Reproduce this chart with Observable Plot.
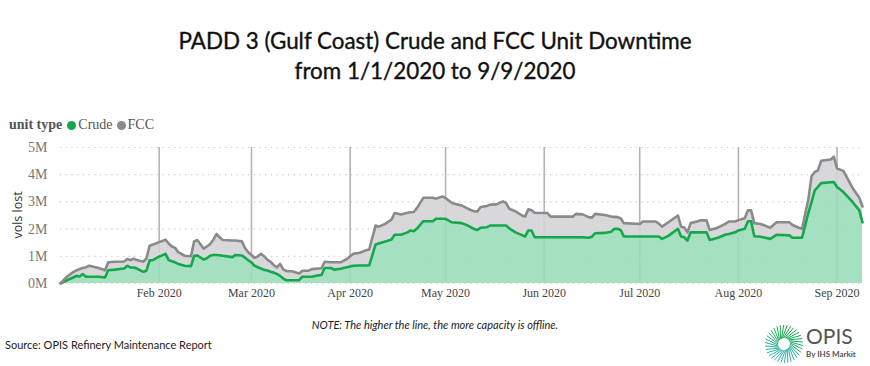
<!DOCTYPE html>
<html>
<head>
<meta charset="utf-8">
<script src="https://cdn.jsdelivr.net/npm/d3@7"></script>
<script src="https://cdn.jsdelivr.net/npm/@observablehq/plot@0.6"></script>
<style>
  html, body { margin: 0; padding: 0; background: #fff; }
  #page { position: relative; width: 870px; height: 366px; overflow: hidden; font-family: "Liberation Serif", serif; }
  .title { position: absolute; left: 0; width: 870px; text-align: center; font-family: Lato, "Open Sans", sans-serif; font-size: 22.4px; color: #111; -webkit-text-stroke: 0.35px #111; }
  #legend { position: absolute; left: 9px; top: 117px; font-family: "Liberation Serif", serif; font-size: 14px; color: #555; white-space: nowrap; }
  #legend b { color: #555; margin-right: 5px; }
  #legend .dot { display: inline-block; width: 9px; height: 9px; border-radius: 50%; margin-right: 2px; vertical-align: -1px; }
  #chart { position: absolute; left: 0; top: 135px; }
  #ylabel { position: absolute; left: 17px; top: 215px; transform: translate(-50%, -50%) rotate(-90deg); font-family: "Open Sans", sans-serif; font-size: 12.5px; color: #333; white-space: nowrap; }
  #note { position: absolute; left: 0; width: 870px; top: 318px; text-align: center; font-family: "Liberation Sans Narrow", Lato, sans-serif; font-style: italic; font-size: 11px; color: #222; }
  #source { position: absolute; left: 5px; top: 338px; font-family: "Liberation Sans Narrow", Lato, sans-serif; font-size: 11px; color: #222; }
  #logo { position: absolute; left: 760px; top: 320px; }
  #chart svg [aria-label="y-axis tick label"] text, #chart svg [aria-label="y-axis"] text { font-size: 14px; fill: #777; }
  #chart svg [aria-label="x-axis tick label"] text, #chart svg [aria-label="x-axis"] text { font-size: 12px; fill: #444; }
</style>
</head>
<body>
<div id="page">
  <div class="title" style="top:27px">PADD 3 (Gulf Coast) Crude and FCC Unit Downtime</div>
  <div class="title" style="top:57px">from 1/1/2020 to 9/9/2020</div>
  <div id="legend"></div>
  <div id="chart"></div>
  <div id="ylabel">vols lost</div>
  <div id="note">NOTE: The higher the line, the more capacity is offline.</div>
  <div id="source">Source: OPIS Refinery Maintenance Report</div>
  <div id="logo"></div>
</div>
<script>
// ---- Data (volumes lost, millions) ----
const dates = [
  // Jan
  "2020-01-01","2020-01-03","2020-01-05","2020-01-06","2020-01-07","2020-01-08","2020-01-09","2020-01-10","2020-01-13","2020-01-15","2020-01-16","2020-01-18","2020-01-21","2020-01-22","2020-01-23","2020-01-24","2020-01-25","2020-01-27","2020-01-28","2020-01-29","2020-01-30",
  // Feb
  "2020-02-01","2020-02-03","2020-02-04","2020-02-05","2020-02-06","2020-02-07","2020-02-09","2020-02-11","2020-02-12","2020-02-13","2020-02-15","2020-02-16","2020-02-17","2020-02-18","2020-02-19","2020-02-20","2020-02-21","2020-02-24","2020-02-25","2020-02-27","2020-02-28","2020-02-29",
  // Mar
  "2020-03-01","2020-03-02","2020-03-03","2020-03-04","2020-03-05","2020-03-06","2020-03-07","2020-03-08","2020-03-09","2020-03-10","2020-03-11","2020-03-12","2020-03-14","2020-03-16","2020-03-17","2020-03-19","2020-03-20","2020-03-22","2020-03-23","2020-03-24","2020-03-26","2020-03-27","2020-03-29","2020-03-31",
  // Apr
  "2020-04-02","2020-04-04","2020-04-06","2020-04-07","2020-04-09","2020-04-10","2020-04-12","2020-04-14","2020-04-15","2020-04-17","2020-04-19","2020-04-20","2020-04-21","2020-04-22","2020-04-24","2020-04-27","2020-04-28","2020-04-30",
  // May
  "2020-05-01","2020-05-03","2020-05-06","2020-05-08","2020-05-10","2020-05-11","2020-05-12","2020-05-14","2020-05-15","2020-05-17","2020-05-19","2020-05-20","2020-05-21","2020-05-23","2020-05-25","2020-05-26","2020-05-27","2020-05-28","2020-05-29",
  // Jun
  "2020-06-02","2020-06-03","2020-06-10","2020-06-11","2020-06-13","2020-06-15","2020-06-16","2020-06-17","2020-06-20","2020-06-22","2020-06-23","2020-06-24","2020-06-25","2020-06-26",
  // Jul
  "2020-07-01","2020-07-02","2020-07-06","2020-07-07","2020-07-08","2020-07-10","2020-07-13","2020-07-14","2020-07-15","2020-07-16","2020-07-17","2020-07-19","2020-07-20","2020-07-22","2020-07-23","2020-07-25","2020-07-26","2020-07-28","2020-07-29","2020-07-31",
  // Aug
  "2020-08-01","2020-08-03","2020-08-04","2020-08-05","2020-08-06","2020-08-08","2020-08-11","2020-08-13","2020-08-17","2020-08-18","2020-08-20","2020-08-21","2020-08-23","2020-08-24","2020-08-25","2020-08-26","2020-08-27","2020-08-30","2020-08-31",
  // Sep
  "2020-09-01","2020-09-03","2020-09-06","2020-09-08","2020-09-09"
];
const crudeVols = [
  0,0.12,0.22,0.28,0.26,0.35,0.25,0.25,0.25,0.22,0.49,0.51,0.55,0.65,0.59,0.59,0.55,0.43,0.47,0.85,0.86,
  0.99,1.09,0.86,0.82,0.78,0.72,0.65,0.64,1.02,1.03,0.88,0.93,1.02,1.05,1.05,1.04,1.02,0.97,1.05,1.03,0.95,0.85,
  0.78,0.65,0.60,0.55,0.50,0.48,0.43,0.40,0.35,0.28,0.18,0.12,0.12,0.12,0.25,0.25,0.25,0.30,0.31,0.57,0.57,0.51,0.54,0.60,
  0.65,0.66,0.66,0.67,1.43,1.47,1.54,1.62,1.79,1.79,1.88,1.95,1.92,2.02,2.29,2.29,2.38,2.38,
  2.38,2.25,2.22,2.13,2.00,1.97,2.05,2.07,2.13,2.13,2.13,2.13,2.03,1.88,1.78,1.73,1.95,1.95,1.70,
  1.70,1.70,1.70,1.70,1.70,1.68,1.72,1.85,1.86,1.90,2.01,2.01,1.97,1.73,
  1.73,1.73,1.73,1.73,1.64,1.75,2.01,1.73,1.70,1.58,1.88,1.88,1.88,1.88,1.60,1.66,1.70,1.80,1.82,1.88,
  1.95,2.01,2.29,2.29,1.74,1.72,1.64,1.79,1.77,1.68,1.68,1.68,2.60,3.00,3.42,3.55,3.69,3.72,3.73,
  3.55,3.36,2.98,2.69,2.25
];
const fccVols = [
  0,0.13,0.20,0.20,0.27,0.22,0.35,0.40,0.32,0.27,0.29,0.29,0.26,0.25,0.27,0.32,0.31,0.37,0.45,0.54,0.57,
  0.53,0.52,0.61,0.54,0.53,0.43,0.37,0.36,0.53,0.57,0.40,0.43,0.43,0.55,0.77,0.66,0.58,0.61,0.53,0.52,0.35,0.30,
  0.27,0.29,0.40,0.54,0.50,0.40,0.37,0.28,0.24,0.44,0.34,0.34,0.32,0.25,0.22,0.22,0.28,0.25,0.25,0.23,0.21,0.27,0.24,0.30,
  0.44,0.47,0.56,0.58,0.70,0.62,0.65,0.73,0.80,0.75,0.72,0.67,0.71,0.75,0.86,0.86,0.74,0.82,
  0.76,0.71,0.65,0.62,0.65,0.68,0.76,0.78,0.77,0.78,0.89,0.83,0.72,0.77,0.72,0.73,0.78,0.74,0.90,
  0.89,0.76,0.76,0.86,0.84,0.76,0.70,0.71,0.66,0.56,0.44,0.43,0.43,0.49,
  0.46,0.55,0.55,0.47,0.45,0.50,0.49,0.36,0.36,0.30,0.34,0.40,0.44,0.44,0.37,0.37,0.38,0.40,0.46,0.40,
  0.38,0.39,0.40,0.40,0.48,0.47,0.41,0.46,0.48,0.47,0.37,0.33,0.50,0.95,0.68,0.61,0.82,0.84,0.93,
  0.68,0.78,0.51,0.46,0.58
];
const unitTypes = ["Crude", "FCC"];
const lineColors = ["#13a84c", "#8a8a8c"];
const fillColors = ["#9bdeb9", "#d4d4d7"];
const monthTicks = ["2020-02-01","2020-03-01","2020-04-01","2020-05-01","2020-06-01","2020-07-01","2020-08-01","2020-09-01"];
const yTicks = [0, 1, 2, 3, 4, 5];

// ---- Build tidy table ----
const table = [];
unitTypes.forEach((t, k) => {
  const vals = k === 0 ? crudeVols : fccVols;
  dates.forEach((d, i) => table.push({date: new Date(d), type: t, vols: vals[i]}));
});
const tickDates = monthTicks.map(d => new Date(d));

const chart = Plot.plot({
  width: 870,
  height: 170,
  marginLeft: 60,
  marginRight: 8,
  marginTop: 12,
  marginBottom: 22,
  style: {fontFamily: "'Liberation Serif', serif", background: "transparent", overflow: "visible"},
  x: {type: "utc", domain: [new Date("2020-01-01"), new Date("2020-09-09")], ticks: tickDates,
      tickFormat: d3.utcFormat("%b %Y"), tickSize: 0, tickPadding: 5, label: null},
  y: {domain: [0, 5], ticks: yTicks, tickFormat: d => d + "M", tickSize: 0, tickPadding: 13, label: null},
  marks: [
    Plot.ruleY(yTicks, {y: d => d, stroke: "#c8c8c8", strokeDasharray: "1.2,4.5", strokeWidth: 1.2}),
    Plot.ruleX(tickDates, {x: d => d, stroke: "#b4b4b4", strokeWidth: 1.6}),
    Plot.areaY(table, Plot.stackY({x: "date", y: "vols", z: "type",
      fill: d => fillColors[unitTypes.indexOf(d.type)], fillOpacity: 0.9, curve: "linear"})),
    Plot.lineY(table, Plot.stackY2({x: "date", y: "vols", z: "type",
      stroke: d => lineColors[unitTypes.indexOf(d.type)], strokeWidth: 2.6, curve: "linear"}))
  ]
});
document.getElementById("chart").appendChild(chart);

// ---- Legend ----
const legend = document.getElementById("legend");
legend.innerHTML = "<b>unit type</b>" + unitTypes.map((t, k) =>
  `<span style="margin-right:4px"><span class="dot" style="background:${k === 0 ? "#13a84c" : "#8a8a8c"}"></span>${t}</span>`).join("");

// ---- Logo (decoration) ----
const ns = "http://www.w3.org/2000/svg";
const logo = document.createElementNS(ns, "svg");
logo.setAttribute("width", 110); logo.setAttribute("height", 46);
const cx = 24, cy = 24;
for (let i = 0; i < 34; i++) {
  const a = i / 34 * Math.PI * 2;
  const r1 = 6, r2 = 19;
  const x1 = cx + r1 * Math.cos(a), y1 = cy + r1 * Math.sin(a);
  const x2 = cx + r2 * Math.cos(a + 0.45), y2 = cy + r2 * Math.sin(a + 0.45);
  const l = document.createElementNS(ns, "line");
  l.setAttribute("x1", x1); l.setAttribute("y1", y1); l.setAttribute("x2", x2); l.setAttribute("y2", y2);
  const c = d3.interpolateRgb("#12a54a", "#2bb5a8")(0.5 + 0.5 * Math.sin(a));
  l.setAttribute("stroke", c); l.setAttribute("stroke-width", 1);
  logo.appendChild(l);
}
const t1 = document.createElementNS(ns, "text");
t1.setAttribute("x", 46); t1.setAttribute("y", 24); t1.setAttribute("font-family", "Lato, sans-serif");
t1.setAttribute("font-size", 21); t1.setAttribute("fill", "#555"); t1.textContent = "OPIS";
const t2 = document.createElementNS(ns, "text");
t2.setAttribute("x", 46); t2.setAttribute("y", 37); t2.setAttribute("font-family", "Lato, sans-serif");
t2.setAttribute("font-size", 8); t2.setAttribute("font-weight", "bold"); t2.setAttribute("fill", "#555"); t2.textContent = "By IHS Markit";
logo.appendChild(t1); logo.appendChild(t2);
document.getElementById("logo").appendChild(logo);
</script>
</body>
</html>
